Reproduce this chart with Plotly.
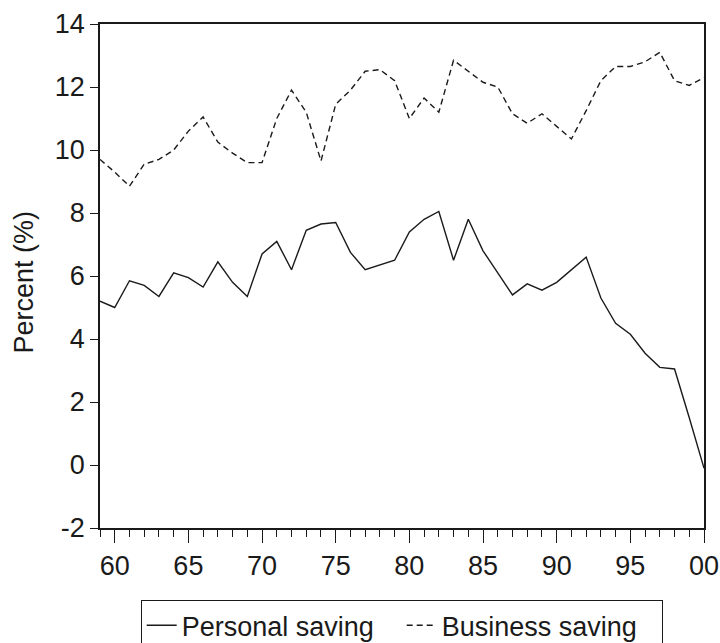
import plotly.graph_objects as go

years = list(range(1959, 2001))
personal_saving = [5.2, 5.0, 5.85, 5.7, 5.35, 6.1, 5.95, 5.65, 6.45, 5.8,
                   5.35, 6.7, 7.1, 6.2, 7.45, 7.65, 7.7, 6.75, 6.2, 6.35,
                   6.5, 7.4, 7.8, 8.05, 6.5, 7.8, 6.8, 6.1, 5.4, 5.75,
                   5.55, 5.8, 6.2, 6.6, 5.3, 4.5, 4.15, 3.55, 3.1, 3.05,
                   1.5, -0.1]
business_saving = [9.7, 9.3, 8.85, 9.55, 9.7, 10.0, 10.6, 11.05, 10.25, 9.9,
                   9.6, 9.6, 11.0, 11.9, 11.2, 9.65, 11.45, 11.9, 12.5, 12.55,
                   12.2, 11.0, 11.65, 11.2, 12.85, 12.5, 12.15, 12.0, 11.15, 10.85,
                   11.15, 10.75, 10.35, 11.25, 12.2, 12.65, 12.65, 12.8, 13.1, 12.2,
                   12.05, 12.3]
x_tickvals = [1960, 1965, 1970, 1975, 1980, 1985, 1990, 1995, 2000]
x_ticktext = ["60", "65", "70", "75", "80", "85", "90", "95", "00"]
y_tickvals = [-2, 0, 2, 4, 6, 8, 10, 12, 14]
y_ticktext = ["-2", "0", "2", "4", "6", "8", "10", "12", "14"]
y_title = "Percent (%)"

FONT = "Liberation Sans, Arial, sans-serif"
INK = "#1a1a1a"

fig = go.Figure()
fig.add_trace(go.Scatter(x=years, y=personal_saving, mode="lines",
                         name="Personal saving",
                         line=dict(color=INK, width=1.4)))
fig.add_trace(go.Scatter(x=years, y=business_saving, mode="lines",
                         name="Business saving",
                         line=dict(color=INK, width=1.4, dash="6px,4px")))

fig.update_layout(
    width=720, height=643,
    paper_bgcolor="white", plot_bgcolor="white",
    margin=dict(l=100, r=16, t=24, b=115, autoexpand=False),
    font=dict(family=FONT, size=27, color=INK),
    showlegend=True,
    legend=dict(orientation="h", x=0.5, xanchor="center",
                yref="container", y=43 / 643, yanchor="top",
                bordercolor=INK, borderwidth=1.2, bgcolor="white",
                font=dict(size=27, family=FONT, color=INK),
                itemwidth=30, tracegroupgap=0, entrywidth=215),
    annotations=[dict(text=y_title, xref="paper", yref="paper",
                      x=-0.126, y=0.489, xanchor="center", yanchor="middle",
                      textangle=-90, showarrow=False,
                      font=dict(size=27, family=FONT, color=INK))],
)
fig.update_xaxes(
    range=[1959, 2000], tickvals=x_tickvals, ticktext=x_ticktext,
    showgrid=False, zeroline=False, automargin=False,
    showline=True, linecolor=INK, linewidth=1.5, mirror=True,
    ticks="outside", ticklen=13, tickwidth=1.2, tickcolor=INK,
    minor=dict(dtick=1, tick0=1959, ticks="outside", ticklen=7, tickwidth=1.1, tickcolor=INK, showgrid=False),
    tickfont=dict(size=27, family=FONT, color=INK),
)
fig.update_yaxes(
    range=[-2, 14], tickvals=y_tickvals, ticktext=y_ticktext,
    showgrid=False, zeroline=False, automargin=False,
    showline=True, linecolor=INK, linewidth=1.5, mirror=True,
    ticks="outside", ticklen=8, tickwidth=1.1, tickcolor=INK,
    tickfont=dict(size=27, family=FONT, color=INK),
)

fig.write_html("out.html", config={"displayModeBar": False},
               post_script="document.body.style.margin='0';document.body.style.overflow='hidden';")
